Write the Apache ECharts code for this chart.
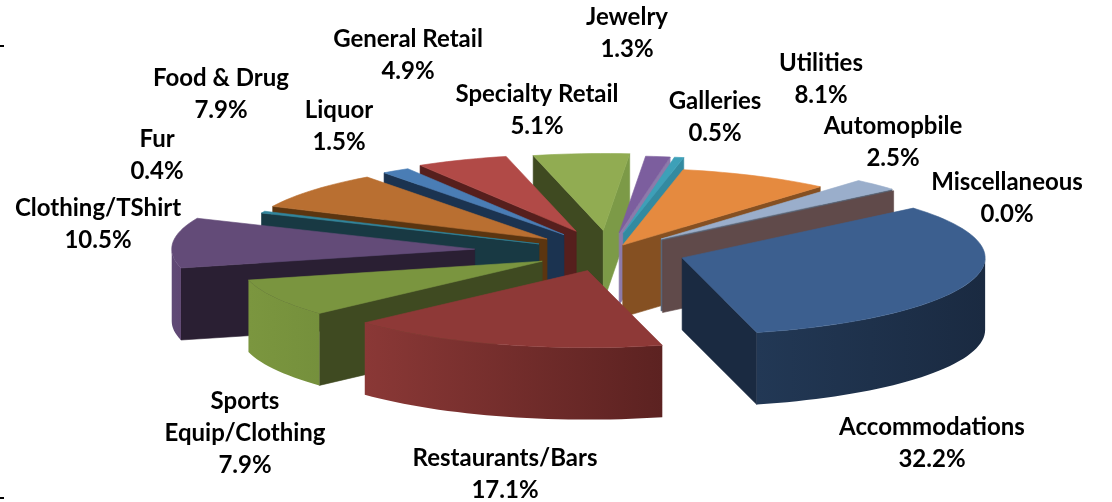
<!DOCTYPE html>
<html>
<head>
<meta charset="utf-8">
<style>html,body{margin:0;padding:0;background:#fff}#c{width:1112px;height:502px}</style>
<script src="https://cdn.jsdelivr.net/npm/echarts@6/dist/echarts.min.js"></script>
</head>
<body>
<div id="c"></div>
<script>
// --- data ---
const categories = ['Accommodations','Restaurants/Bars','Sports\nEquip/Clothing','Clothing/TShirt','Fur','Food & Drug','Liquor','General Retail','Specialty Retail','Jewelry','Galleries','Utilities','Automopbile','Miscellaneous'];
const shares = [32.2,17.1,7.9,10.5,0.4,7.9,1.5,4.9,5.1,1.3,0.5,8.1,2.5,0.0];
// --- how far each slice is pulled out of the pie ---
const explode = [.252,.252,.252,.446,.255,.266,.27,.29,.28,.25,.25,.1,.24,.23];
// --- styles ---
const topColors = ['#3c5f8f','#8e3937','#7a953f','#634b78','#31859c','#b96f31','#4a7db5','#b14a47','#91ac52','#7c5e9e','#3da0b8','#e58a3f','#9aaecb','#a9a0a0'];
const arcColors = [['#223855','#1a2a41'],['#8a3836','#5c2221'],['#7b963f','#75903c'],['#604a76','#5f4773'],['#2a6a7c','#2a6a7c'],['#9a5c28','#9a5c28'],['#3c6594','#3c6594'],['#933d3a','#933d3a'],['#7c9a47','#7c9a47'],['#6a5088','#6a5088'],['#338aa0','#338aa0'],['#c4742f','#c4742f'],['#8295ae','#8295ae'],['#604a4a','#604a4a']];
const startWall = ['#1a2a41','#5c2221','#3f4a21','#2a1f33','#183943','#5b3510','#1b3350','#561f1d','#3f4a21','#3a2b4c','#183943','#5b3510','#5a6678','#604a4a'];
const endWall = ['#1a2a41','#5c2221','#3f4a21','#2a1f33','#183943','#5b3510','#1b3350','#561f1d','#7c9a47','#8c7aaa','#338aa0','#855022','#5a6678','#604a4a'];
const labelAnchors = [[932,427],[505,458],[245,401],[98,208],[157,139],[221,78],[339,110],[408,39],[537,94],[627,17],[715,101],[821,63],[893,126],[1007,182]];
// --- pie geometry in pixels ---
const cx = 609.4, cy = 252, rx = 303, ry = 77, depth = 72, firstAngle = 49.7, lineGap = 32;

const total = shares.reduce((a, b) => a + b, 0);
const rad = d => d * Math.PI / 180;
const slices = [];
let cursor = firstAngle;
shares.forEach((v, i) => {
  const span = v / total * 360;
  slices.push({ i, a0: cursor, a1: cursor + span, mid: cursor + span / 2 });
  cursor += span;
});
const drawOrder = slices.slice().sort((p, q) => Math.cos(rad(q.mid)) - Math.cos(rad(p.mid))).map(s => s.i);

function pt(o, deg, dy) {
  return [o[0] + rx * Math.sin(rad(deg)), o[1] - ry * Math.cos(rad(deg)) + (dy || 0)];
}
function arcPts(o, a0, a1, dy) {
  const n = Math.max(1, Math.ceil((a1 - a0) / 2)), r = [];
  for (let k = 0; k <= n; k++) r.push(pt(o, a0 + (a1 - a0) * k / n, dy));
  return r;
}
function poly(points, fill, z) {
  return { type: 'polygon', z2: z, shape: { points }, style: { fill, stroke: typeof fill === 'string' ? fill : null, lineWidth: .6 } };
}
function renderSlice(params, api) {
  const s = slices[api.value(0)], i = s.i;
  const o = [cx + explode[i] * rx * Math.sin(rad(s.mid)), cy - explode[i] * ry * Math.cos(rad(s.mid))];
  const kids = [];
  // radial walls that face the viewer
  if (Math.sin(rad(s.a0)) < 0 && s.a1 > s.a0) {
    const p = pt(o, s.a0);
    kids.push(poly([o, p, [p[0], p[1] + depth], [o[0], o[1] + depth]], startWall[i], 1));
  }
  if (Math.sin(rad(s.a1)) > 0) {
    const p = pt(o, s.a1);
    kids.push(poly([o, p, [p[0], p[1] + depth], [o[0], o[1] + depth]], endWall[i], 1));
  }
  // outer wall: only the part of the rim on the near half
  [[Math.max(s.a0, 90), Math.min(s.a1, 270)], [Math.max(s.a0, 450), Math.min(s.a1, 630)]].forEach(([a, b]) => {
    if (b > a) {
      const rim = arcPts(o, a, b, 0).concat(arcPts(o, a, b, depth).reverse());
      kids.push(poly(rim, { type: 'linear', x: 0, y: 0, x2: 1, y2: 0, colorStops: [{ offset: 0, color: arcColors[i][0] }, { offset: 1, color: arcColors[i][1] }] }, 1));
    }
  });
  // top face
  if (s.a1 > s.a0) kids.push(poly([o].concat(arcPts(o, s.a0, s.a1, 0)), topColors[i], 2));
  return { type: 'group', children: kids };
}
function renderLabel(params, api) {
  const i = api.value(0);
  const text = categories[i] + '\n' + shares[i].toFixed(1) + '%';
  return { type: 'text', style: { text, x: labelAnchors[i][0], y: labelAnchors[i][1] - lineGap / 2, fill: '#000', align: 'center', verticalAlign: 'top', font: '700 24px Lato', lineHeight: lineGap } };
}

const chart = echarts.init(document.getElementById('c'), null, { renderer: 'canvas', width: 1112, height: 502 });
chart.setOption({
  animation: false,
  backgroundColor: '#ffffff',
  series: [
    { type: 'custom', coordinateSystem: 'none', renderItem: renderSlice, data: drawOrder.map(i => [i]), silent: true, z: 1 },
    { type: 'custom', coordinateSystem: 'none', renderItem: renderLabel, data: categories.map((c, i) => [i]), silent: true, z: 2 }
  ],
  graphic: [
    { type: 'rect', shape: { x: 0, y: 45, width: 4, height: 2 }, style: { fill: '#000' } },
    { type: 'rect', shape: { x: 0, y: 497, width: 4, height: 2 }, style: { fill: '#000' } }
  ]
});
</script>
</body>
</html>
